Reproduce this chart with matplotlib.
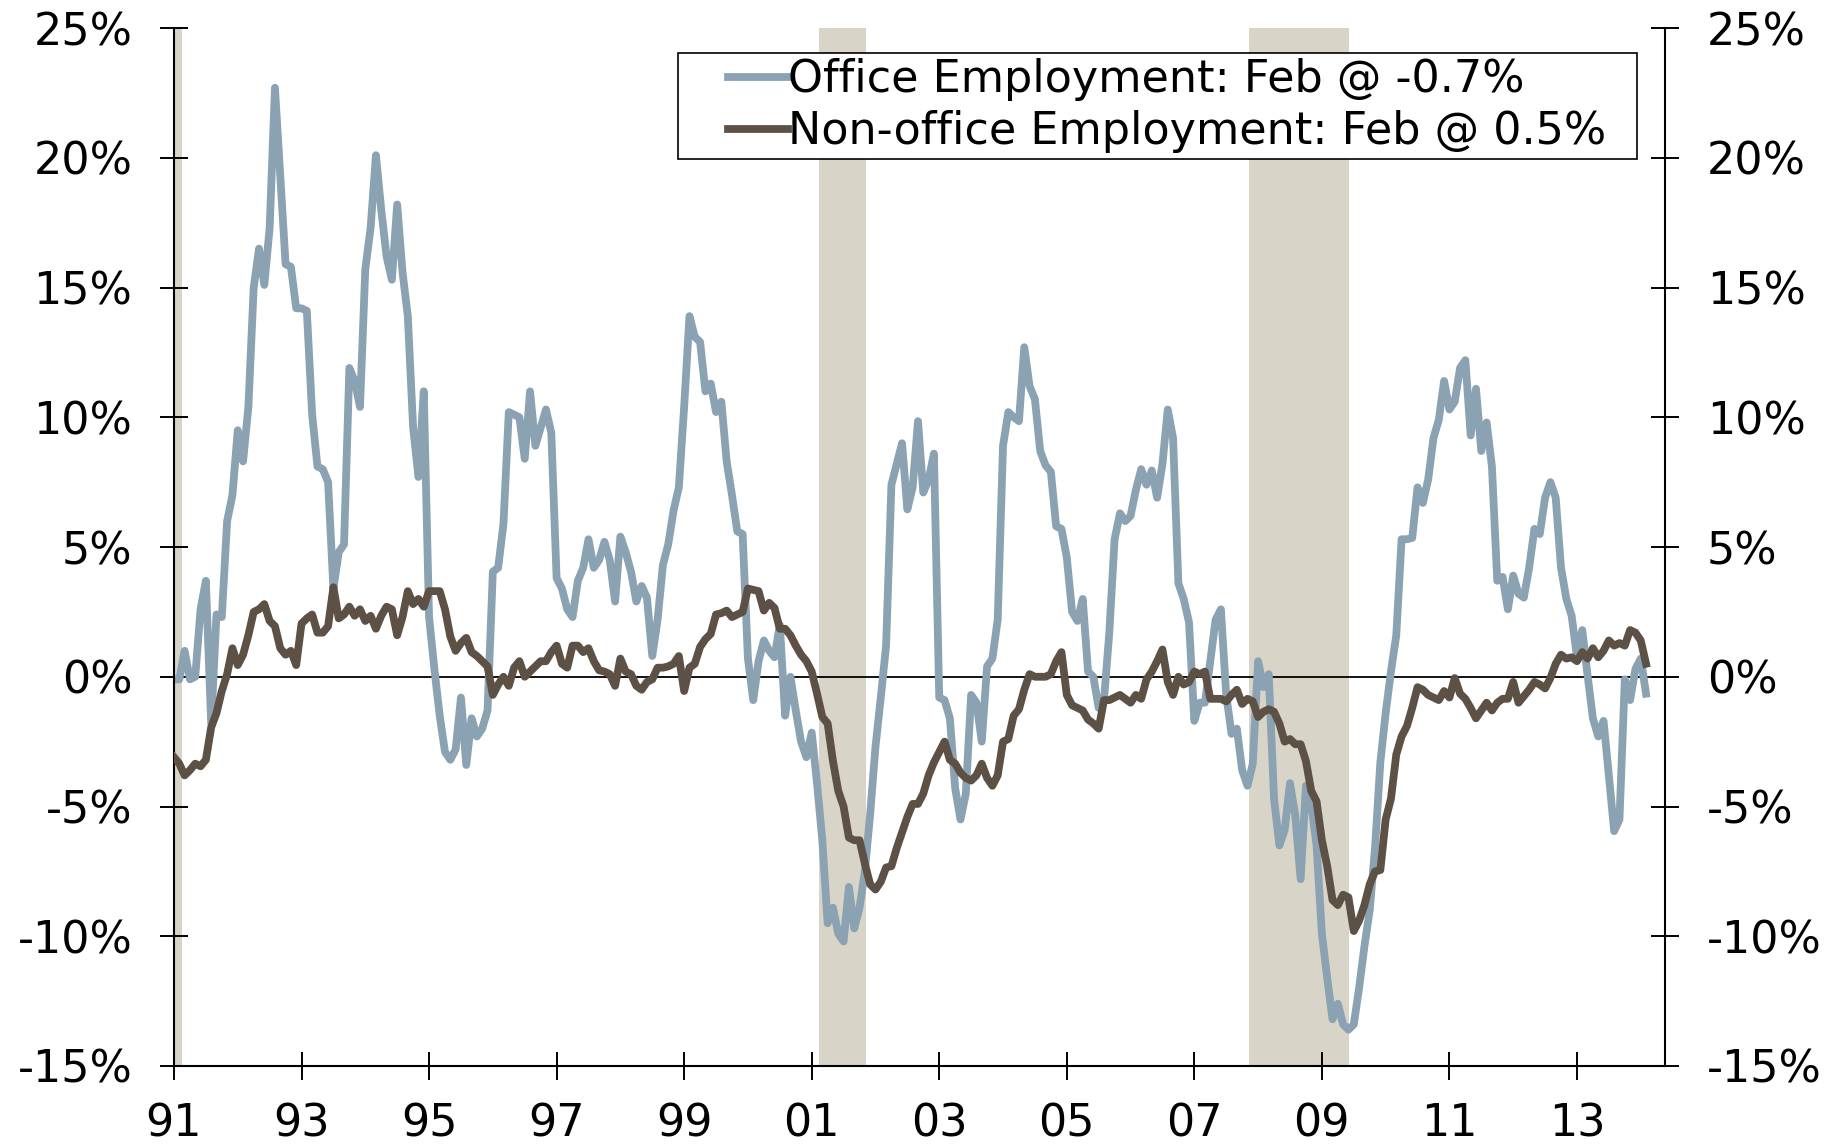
import numpy as np
import matplotlib
matplotlib.use("Agg")
import matplotlib.pyplot as plt

# year-over-year % change, monthly, Jan 1991 - Feb 2014
office_pct = [
    -0.1, -0.1, 1.0, -0.1, 0.0, 2.6, 3.7, -1.8, 2.4, 2.3, 6.0, 7.0,          # 1991
    9.5, 8.3, 10.4, 15.0, 16.5, 15.1, 17.3, 22.7, 19.3, 15.9, 15.8, 14.2,   # 1992
    14.2, 14.1, 10.1, 8.1, 8.0, 7.5, 3.4, 4.8, 5.1, 11.9, 11.4, 10.4,       # 1993
    15.7, 17.3, 20.1, 18.0, 16.2, 15.3, 18.2, 15.6, 13.9, 9.6, 7.7, 11.0,   # 1994
    2.3, 0.3, -1.5, -2.9, -3.2, -2.8, -0.8, -3.4, -1.6, -2.3, -2.0, -1.3,   # 1995
    4.05, 4.2, 5.9, 10.2, 10.1, 10.0, 8.4, 11.0, 8.9, 9.6, 10.3, 9.4,       # 1996
    3.8, 3.4, 2.6, 2.3, 3.7, 4.2, 5.3, 4.2, 4.5, 5.2, 4.5, 2.9,             # 1997
    5.4, 4.8, 4.05, 2.9, 3.5, 3.05, 0.8, 2.2, 4.3, 5.1, 6.4, 7.3,           # 1998
    10.4, 13.9, 13.1, 12.9, 11.0, 11.3, 10.2, 10.6, 8.3, 7.0, 5.6, 5.5,     # 1999
    0.7, -0.9, 0.6, 1.4, 1.0, 0.75, 2.0, -1.5, 0.0, -1.3, -2.5, -3.1,       # 2000
    -2.15, -4.1, -6.3, -9.5, -8.9, -9.9, -10.2, -8.1, -9.7, -8.9, -7.5, -5.3,  # 2001
    -2.7, -0.8, 1.2, 7.4, 8.2, 9.0, 6.45, 7.3, 9.85, 7.1, 7.6, 8.6,         # 2002
    -0.8, -0.9, -1.6, -4.3, -5.5, -4.5, -0.7, -1.0, -2.5, 0.4, 0.7, 2.2,    # 2003
    8.9, 10.2, 10.0, 9.85, 12.7, 11.2, 10.7, 8.7, 8.15, 7.9, 5.8, 5.7,      # 2004
    4.6, 2.5, 2.15, 3.0, 0.2, 0.0, -1.2, -0.9, 1.7, 5.3, 6.3, 6.0,          # 2005
    6.2, 7.2, 8.0, 7.4, 7.95, 6.9, 8.2, 10.3, 9.2, 3.6, 3.0, 2.1,           # 2006
    -1.7, -1.0, -1.0, 0.6, 2.2, 2.6, -0.7, -2.2, -2.0, -3.6, -4.2, -3.35,   # 2007
    0.6, -0.4, 0.1, -4.7, -6.5, -5.9, -4.1, -5.35, -7.8, -4.2, -4.9, -6.5,  # 2008
    -9.9, -11.6, -13.2, -12.6, -13.4, -13.6, -13.4, -12.0, -10.4, -9.0, -6.6, -3.3,  # 2009
    -1.4, 0.2, 1.6, 5.3, 5.3, 5.35, 7.3, 6.7, 7.6, 9.2, 9.9, 11.4,          # 2010
    10.3, 10.6, 11.9, 12.2, 9.3, 11.1, 8.7, 9.8, 8.1, 3.7, 3.85, 2.6,       # 2011
    3.9, 3.2, 3.05, 4.2, 5.7, 5.5, 6.9, 7.5, 6.9, 4.2, 3.0, 2.35,           # 2012
    0.76, 1.8, 0.05, -1.6, -2.3, -1.7, -3.8, -5.95, -5.5, -0.1, -0.9, 0.3,  # 2013
    0.7, -0.65,                                                              # 2014
]

nonoffice_pct = [
    -3.1, -3.35, -3.8, -3.6, -3.35, -3.45, -3.2, -1.95, -1.4, -0.55, 0.1, 1.1,  # 1991
    0.45, 0.85, 1.6, 2.5, 2.6, 2.8, 2.15, 1.95, 1.1, 0.85, 1.0, 0.45,       # 1992
    2.05, 2.25, 2.4, 1.7, 1.7, 1.95, 3.45, 2.25, 2.4, 2.7, 2.35, 2.6,       # 1993
    2.15, 2.35, 1.85, 2.35, 2.7, 2.6, 1.6, 2.3, 3.3, 2.8, 3.0, 2.7,         # 1994
    3.3, 3.3, 3.3, 2.6, 1.55, 1.0, 1.3, 1.5, 0.95, 0.8, 0.6, 0.4,           # 1995
    -0.7, -0.3, 0.0, -0.35, 0.35, 0.6, 0.0, 0.2, 0.4, 0.6, 0.6, 0.95,       # 1996
    1.2, 0.5, 0.35, 1.2, 1.2, 0.95, 1.1, 0.6, 0.25, 0.2, 0.1, -0.35,        # 1997
    0.7, 0.2, 0.1, -0.35, -0.5, -0.2, -0.1, 0.35, 0.35, 0.4, 0.5, 0.8,      # 1998
    -0.55, 0.35, 0.5, 1.15, 1.45, 1.65, 2.4, 2.45, 2.55, 2.3, 2.4, 2.5,     # 1999
    3.4, 3.35, 3.3, 2.55, 2.85, 2.65, 1.85, 1.85, 1.6, 1.2, 0.85, 0.6,      # 2000
    0.2, -0.65, -1.55, -1.8, -3.25, -4.4, -5.0, -6.2, -6.3, -6.3, -7.2, -8.0,  # 2001
    -8.2, -7.9, -7.35, -7.3, -6.6, -6.0, -5.4, -4.9, -4.9, -4.5, -3.8, -3.3,   # 2002
    -2.9, -2.5, -3.2, -3.35, -3.7, -3.9, -4.0, -3.8, -3.35, -3.9, -4.2, -3.8,  # 2003
    -2.5, -2.4, -1.5, -1.25, -0.5, 0.1, 0.0, 0.0, 0.0, 0.1, 0.6, 0.95,      # 2004
    -0.7, -1.1, -1.2, -1.3, -1.65, -1.8, -2.0, -0.9, -0.9, -0.8, -0.7, -0.85,  # 2005
    -1.0, -0.7, -0.85, -0.1, 0.2, 0.6, 1.05, -0.2, -0.7, 0.0, -0.3, -0.2,   # 2006
    0.2, 0.1, 0.2, -0.85, -0.85, -0.85, -0.95, -0.7, -0.5, -1.05, -0.85, -0.95,  # 2007
    -1.55, -1.35, -1.25, -1.35, -1.8, -2.5, -2.4, -2.6, -2.6, -3.25, -4.4, -4.8,  # 2008
    -6.3, -7.3, -8.6, -8.8, -8.4, -8.5, -9.8, -9.4, -8.8, -8.0, -7.5, -7.45,   # 2009
    -5.5, -4.7, -3.0, -2.3, -1.9, -1.2, -0.4, -0.5, -0.7, -0.8, -0.9, -0.55,   # 2010
    -0.8, -0.05, -0.65, -0.85, -1.2, -1.6, -1.3, -1.0, -1.3, -1.0, -0.85, -0.85,  # 2011
    -0.2, -1.0, -0.75, -0.5, -0.2, -0.3, -0.45, -0.05, 0.5, 0.85, 0.7, 0.75,   # 2012
    0.6, 0.95, 0.7, 1.1, 0.75, 1.0, 1.4, 1.2, 1.3, 1.2, 1.8, 1.7,           # 2013
    1.4, 0.5,                                                                # 2014
]

# recessions (decimal years)
recessions = [(1990.5, 1991.13), (2001.12, 2001.85), (2007.86, 2009.43)]

x_ticks = list(range(1991, 2014, 2))
x_labels = ["91", "93", "95", "97", "99", "01", "03", "05", "07", "09", "11", "13"]
y_ticks = [-15, -10, -5, 0, 5, 10, 15, 20, 25]
y_labels = ["-15%", "-10%", "-5%", "0%", "5%", "10%", "15%", "20%", "25%"]

office_label = "Office Employment: Feb @ -0.7%"
nonoffice_label = "Non-office Employment: Feb @ 0.5%"

c_office = "#8AA2B2"
c_nonoffice = "#5D5045"
c_shade = "#D8D4C8"

plt.rcParams["font.family"] = ["DejaVu Sans"]

years = 1991 + np.arange(len(office_pct)) / 12.0

fig = plt.figure(figsize=(18.43, 11.45), dpi=100)
ax = fig.add_axes([0.0944, 0.069, 0.809, 0.9065])

for start, end in recessions:
    ax.axvspan(start, end, color=c_shade, lw=0, zorder=0)

ax.axhline(0, color="black", lw=1.3, zorder=1)
ax.plot(years, office_pct, color=c_office, lw=5.6, label=office_label, zorder=2)
ax.plot(years, nonoffice_pct, color=c_nonoffice, lw=5.6, label=nonoffice_label, zorder=3)

ax.set_xlim(1991, 2014.38)
ax.set_ylim(-15, 25)
ax.set_xticks(x_ticks)
ax.set_xticklabels(x_labels)
ax.set_yticks(y_ticks)
ax.set_yticklabels(y_labels)

ax.spines["top"].set_visible(False)
for s in ["left", "right", "bottom"]:
    ax.spines[s].set_linewidth(1.5)

ax.tick_params(axis="both", direction="inout", length=20, width=1.4,
               labelsize=32, colors="black")
ax.tick_params(axis="y", right=True, labelright=True, pad=20)
ax.tick_params(axis="x", pad=16)

# legend box stretched to a fixed width (extra room ends up on the right)
leg = ax.legend(loc="upper left", bbox_to_anchor=(0.338, 0.976, 0.643, 0.0),
                mode="expand", fontsize=32, frameon=True, fancybox=False,
                framealpha=1, edgecolor="black", borderaxespad=0,
                handlelength=2.35, handletextpad=0.0, labelspacing=0.2,
                borderpad=0.12)
leg.get_frame().set_linewidth(1.2)
# short handle lines, set in from the left edge of the box
for ln in leg.get_lines():
    xd = np.asarray(ln.get_xdata(), dtype=float)
    ln.set_xdata(np.linspace(xd[0] + 0.43 * (xd[-1] - xd[0]), xd[-1], len(xd)))

fig.savefig("out.png", dpi=100)
